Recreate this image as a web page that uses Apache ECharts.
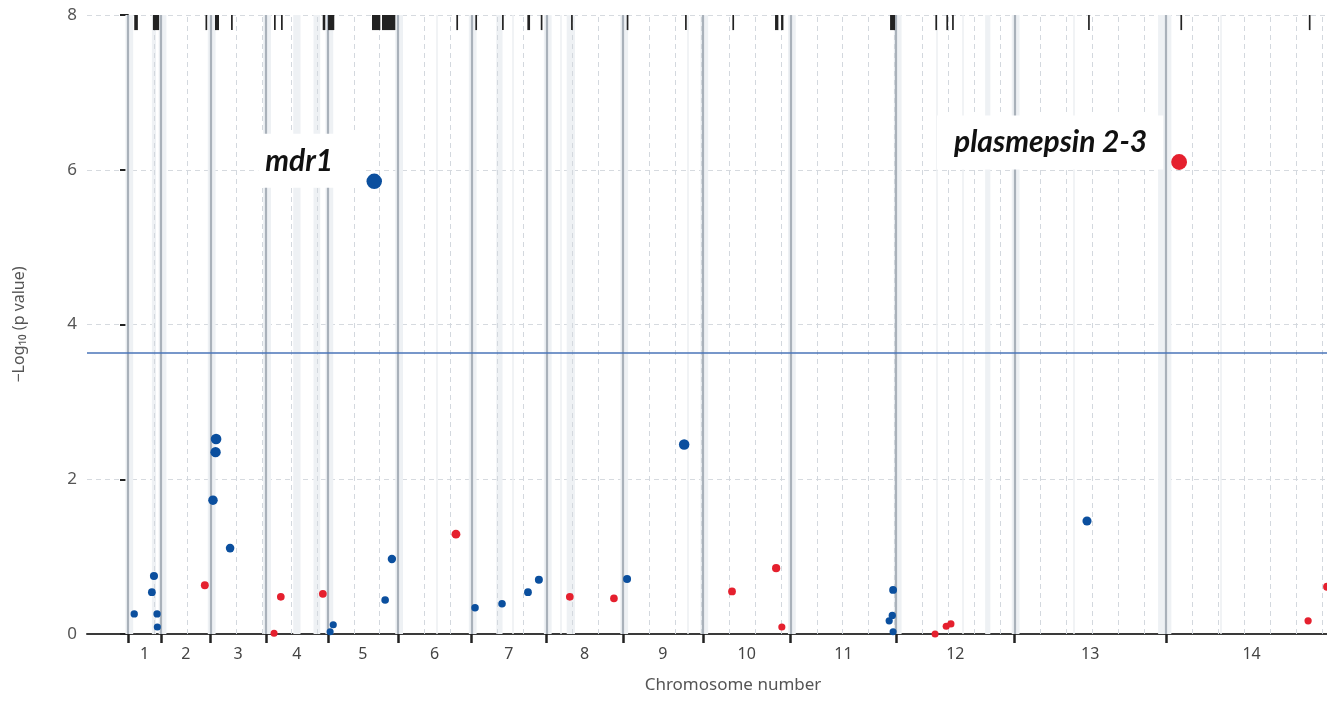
<!DOCTYPE html>
<html><head><meta charset="utf-8">
<script src="https://cdn.jsdelivr.net/npm/echarts@6/dist/echarts.min.js"></script>
<style>html,body{margin:0;padding:0;background:#fff}#c{width:1327px;height:701px}</style>
</head><body><div id="c"></div>
<script>
// ---------- data ----------
const chromosomes = ['1','2','3','4','5','6','7','8','9','10','11','12','13','14'];
const chromLengthsMb = [0.640,0.947,1.067,1.200,1.344,1.418,1.446,1.473,1.542,1.688,2.039,2.272,2.925,3.292];
const yTickValues = [0,2,4,6,8];
const significanceThreshold = 3.63;
const xAxisTitle = 'Chromosome number';
const yAxisTitle = '\u2212Log\u2081\u2080 (p value)';
// [chromosome, position (Mb), -log10 p, gene label]
const bluePoints = [
  [1,0.12,0.26],[1,0.46,0.54],[1,0.50,0.75],[1,0.56,0.26],[1,0.565,0.09],
  [3,0.05,1.73],[3,0.11,2.52],[3,0.10,2.35],[3,0.38,1.11],
  [5,0.04,0.03],[5,0.10,0.12],[5,0.89,5.85,'mdr1'],[5,1.10,0.44],[5,1.23,0.97],
  [7,0.07,0.34],[7,0.59,0.39],[7,1.09,0.54],[7,1.30,0.70],
  [9,0.08,0.71],[9,1.18,2.45],
  [11,1.90,0.17],[11,1.96,0.24],[11,1.975,0.57],[11,1.975,0.03],
  [13,1.40,1.46]
];
const redPoints = [
  [2,0.84,0.63],
  [4,0.16,0.01],[4,0.29,0.48],[4,1.10,0.52],
  [6,1.12,1.29],
  [8,0.45,0.48],[8,1.30,0.46],
  [10,0.56,0.55],[10,1.41,0.85],[10,1.52,0.09],
  [12,0.745,0.00],[12,0.96,0.10],[12,1.05,0.13],
  [14,0.25,6.10,'plasmepsin 2-3'],[14,2.735,0.17],[14,3.10,0.61]
];
// top rug of genomic marks: [chromosome, start Mb, end Mb]
const genomeMarks = [
  [1,0.12,0.19],[1,0.48,0.60],[2,0.853,0.882],[3,0.089,0.166],[3,0.398,0.398],
  [4,0.159,0.159],[4,0.294,0.294],[4,1.097,1.147],[5,0.0,0.12],[5,0.847,1.007],[5,1.040,1.296],
  [6,1.128,1.160],[7,0.076,0.108],[7,0.59,0.61],[7,1.078,1.130],[7,1.336,1.336],
  [8,0.474,0.506],[9,0.073,0.099],[9,1.197,1.197],[10,0.567,0.599],[10,1.389,1.453],[10,1.505,1.550],
  [11,1.917,2.013],[12,0.751,0.751],[12,0.963,0.963],[12,1.073,1.073],[13,1.421,1.44],
  [14,0.275,0.307],[14,2.749,2.749]
];
// light shaded regions: [chromosome, start Mb, end Mb]
const shadedRegions = [
  [1,0.46,0.54],[4,0.53,0.67],[4,0.92,1.05],[7,0.48,0.60],[8,0.39,0.55],[12,1.71,1.81],[13,2.77,2.925]
];
// faint solid reference lines: [chromosome, position Mb]
const faintLines = [[6,0.755],[7,0.80],[8,0.28],[9,1.25],[12,0.78],[12,1.29],[13,1.15],[14,1.06]];
const gridStepMb = 0.5;

// ---------- derived ----------
const starts = [];
let acc = 0;
chromLengthsMb.forEach(l => { starts.push(acc); acc += l; });
const centers = starts.map((s, i) => s + chromLengthsMb[i] / 2);
const gx = (c, p) => starts[c - 1] + p;

const toItem = (d) => {
  const item = { value: [gx(d[0], d[1]), d[2]] };
  if (d[3]) item.label = { show: true, formatter: d[3] };
  return item;
};
const blueData = bluePoints.map(toItem);
const redData = redPoints.map(toItem);
const rugData = genomeMarks.map(m => [gx(m[0], m[1]), gx(m[0], m[2]), 8]);

const dashedLines = [];
chromLengthsMb.forEach((l, i) => {
  for (let p = gridStepMb; p < l - 1e-9; p += gridStepMb) dashedLines.push({ xAxis: starts[i] + p });
});
const boundaryLines = starts.map(s => ({ xAxis: s }));
const bandAreas = starts.map(s => [{ xAxis: s - 0.05 }, { xAxis: s + 0.1 }])
  .concat(shadedRegions.map(r => [{ xAxis: gx(r[0], r[1]) }, { xAxis: gx(r[0], r[2]) }]));
const faint = faintLines.map(f => ({ xAxis: gx(f[0], f[1]) }));

const BLUE = '#0b4f9e', RED = '#e5202e';
const labelFont = 'Lato, "Open Sans", sans-serif';
const baseFont = '"Noto Sans", "Open Sans", sans-serif';

const chart = echarts.init(document.getElementById('c'), null, { renderer: 'canvas' });
const sizeFn = v => 7 + v[1] * 1.45;
const annLabel = (offset, padding) => ({
  position: 'inside', offset: offset, align: 'center', verticalAlign: 'middle',
  color: '#111', fontFamily: labelFont, fontWeight: 'bold', fontStyle: 'italic', fontSize: 30, lineHeight: 32,
  backgroundColor: '#ffffff', padding: padding
});

blueData.forEach(d => { if (d.label) Object.assign(d.label, annLabel([-64, -20.5], [11, 29, 11, 7])); });
redData.forEach(d => { if (d.label) Object.assign(d.label, annLabel([-129, -19.5], [11, 16, 11, 17])); });

chart.setOption({
  animation: false,
  backgroundColor: '#ffffff',
  grid: { left: 87, right: 0, top: 15, bottom: 67 },
  xAxis: {
    type: 'value', min: -0.79, max: 23.10,
    name: xAxisTitle, nameLocation: 'middle', nameGap: 43,
    nameTextStyle: { fontFamily: baseFont, fontSize: 17, color: '#555', padding: [0, 0, 0, 52] },
    axisLine: { show: true, onZero: false, lineStyle: { color: '#3a3a3a', width: 2 } },
    axisTick: { show: true, customValues: starts, length: 9, lineStyle: { color: '#222', width: 2.5 } },
    axisLabel: {
      customValues: centers, margin: 12, fontFamily: baseFont, fontSize: 16, color: '#444',
      formatter: v => { const i = centers.findIndex(c => Math.abs(c - v) < 1e-6); return i >= 0 ? chromosomes[i] : ''; }
    },
    splitLine: { show: false }
  },
  yAxis: {
    type: 'value', min: yTickValues[0], max: yTickValues[yTickValues.length - 1], interval: 2,
    name: yAxisTitle, nameLocation: 'middle', nameGap: 60, nameRotate: 90,
    nameTextStyle: { fontFamily: baseFont, fontSize: 16, color: '#555' },
    axisLine: { show: true, lineStyle: { color: '#3a3a3a', width: 2 } },
    axisTick: { show: true, length: 8, lineStyle: { color: '#222', width: 2 } },
    axisLabel: { margin: 10, fontFamily: baseFont, fontSize: 17, color: '#555' },
    splitLine: { show: true, lineStyle: { color: '#d6dadf', type: [5, 4], width: 1 } }
  },
  series: [
    { type: 'line', data: [], silent: true, z: 1,
      markArea: { silent: true, itemStyle: { color: '#eef1f4' }, data: bandAreas },
      markLine: { silent: true, symbol: 'none', label: { show: false },
        lineStyle: { color: '#eceff2', width: 1.5, type: 'solid' }, data: faint } },
    { type: 'line', data: [], silent: true, z: 2,
      markLine: { silent: true, symbol: 'none', label: { show: false },
        lineStyle: { color: '#d3d8de', width: 1, type: [5, 4] }, data: dashedLines } },
    { type: 'line', data: [], silent: true, z: 3,
      markLine: { silent: true, symbol: 'none', label: { show: false },
        lineStyle: { color: '#a9b1ba', width: 2.2, type: 'solid' }, data: boundaryLines } },
    { type: 'line', data: [], silent: true, z: 4,
      markLine: { silent: true, symbol: 'none', label: { show: false },
        lineStyle: { color: '#4a74b8', width: 1.5, type: 'solid' }, data: [{ yAxis: significanceThreshold }] } },
    { type: 'custom', data: rugData, z: 5, clip: false, silent: true,
      encode: { x: [0, 1], y: 2 },
      renderItem: (params, api) => {
        const a = api.coord([api.value(0), 8]);
        const b = api.coord([api.value(1), 7.805]);
        return { type: 'rect', shape: { x: a[0], y: a[1], width: Math.max(b[0] - a[0], 1.7), height: b[1] - a[1] },
          style: { fill: '#222' } };
      } },
    { type: 'scatter', data: blueData, z: 10, clip: false, symbolSize: sizeFn,
      itemStyle: { color: BLUE, opacity: 1 }, label: { show: false } },
    { type: 'scatter', data: redData, z: 10, clip: false, symbolSize: sizeFn,
      itemStyle: { color: RED, opacity: 1 }, label: { show: false } }
  ]
});
</script></body></html>
